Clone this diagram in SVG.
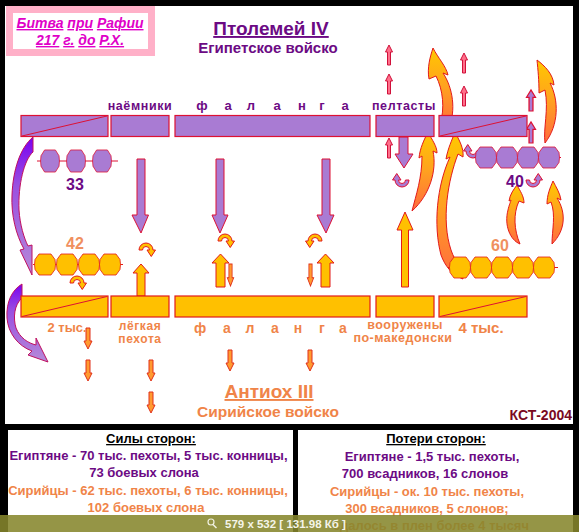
<svg xmlns="http://www.w3.org/2000/svg" xmlns:xlink="http://www.w3.org/1999/xlink" width="579" height="532" viewBox="0 0 579 532">
<style>
text{font-family:"Liberation Sans",Arial,sans-serif;font-weight:bold}
.pu{fill:#a97bd3;stroke:#dd1133;stroke-width:1.2}
.or{fill:#ffc000;stroke:#e21a1a;stroke-width:1.2}
.dg{fill:none;stroke:#dd1133;stroke-width:1}
.tp{fill:#6c0a84}
.to{fill:#f08448}
.elp{fill:#a97bd3;stroke:#dd1133;stroke-width:0.8}
.elo{fill:#ffc000;stroke:#e21a1a;stroke-width:0.8}
.ut-o{fill:#ffc000;stroke:#e21a1a;stroke-width:1}
.ut-p{fill:#a97bd3;stroke:#dd1133;stroke-width:1}
.ar-p{fill:#a97bd3;stroke:#dd1133;stroke-width:1}
.ar-o{fill:#ffc000;stroke:#e21a1a;stroke-width:1}
.ar-r{fill:#ff6f8a;stroke:#d0103a;stroke-width:1}
.ar-t{fill:#ff9a30;stroke:#e0301a;stroke-width:1}
.fl{fill:url(#gFl);stroke:#e21a1a;stroke-width:1}
.flp{fill:url(#gFlp);stroke:#c01060;stroke-width:1}
.bt{font-size:13px}
</style>
<defs>
<linearGradient id="gFl" x1="0" y1="0" x2="0" y2="1">
<stop offset="0" stop-color="#ffc800"/><stop offset="0.5" stop-color="#ffa020"/><stop offset="1" stop-color="#ff6a40"/>
</linearGradient>
<linearGradient id="gFlp" x1="0" y1="0" x2="0" y2="1">
<stop offset="0" stop-color="#7a00f0"/><stop offset="0.35" stop-color="#9a50e0"/><stop offset="1" stop-color="#b58ad8"/>
</linearGradient>
<path id="blob" d="M -6 -10.5 L 6 -10.5 L 10 -5 L 10.5 0 L 10 5 L 6 10.5 L -6 10.5 L -10 5 L -10.5 0 L -10 -5 Z"/>
<path id="uturn" d="M -7 0 A 7 7 0 0 1 7 0 L 9.5 0 L 5.25 6.5 L 1 0 L 3.5 0 A 3.5 3.5 0 0 0 -3.5 0 Z"/>
<path id="tdn" d="M -2 0 H 2 V 13 H 4 L 0 21 L -4 13 H -2 Z"/>
<path id="tup" d="M -1.5 20 H 1.5 V 7 H 3.5 L 0 0 L -3.5 7 H -1.5 Z"/>
</defs>

<rect x="0" y="0" width="579" height="532" fill="#000"/>
<rect x="5" y="6" width="568" height="418" fill="#fff"/>
<rect x="8" y="430" width="285" height="102" fill="#fff"/>
<rect x="298" y="430" width="275" height="102" fill="#fff"/>

<g id="title-box">
<rect x="9.5" y="9.5" width="142" height="43" fill="#fff" stroke="#ffb0c8" stroke-width="7"/>
<text x="80" y="28" text-anchor="middle" font-size="14" font-style="italic" fill="#e000c8"><tspan text-decoration="underline">Битва</tspan> <tspan text-decoration="underline">при</tspan> <tspan text-decoration="underline">Рафии</tspan></text>
<text x="80" y="45" text-anchor="middle" font-size="14" font-style="italic" fill="#e000c8"><tspan text-decoration="underline">217</tspan> <tspan text-decoration="underline">г.</tspan> <tspan text-decoration="underline">до</tspan> <tspan text-decoration="underline">Р.Х.</tspan></text>
</g>

<g id="egypt-title">
<text x="271" y="35" text-anchor="middle" font-size="19" class="tp" text-decoration="underline">Птолемей IV</text>
<text x="268" y="53" text-anchor="middle" font-size="15" class="tp">Египетское войско</text>
</g>
<g id="syria-title">
<text x="269" y="398" text-anchor="middle" font-size="19" class="to" text-decoration="underline">Антиох III</text>
<text x="268" y="417" text-anchor="middle" font-size="15.5" class="to">Сирийское войско</text>
</g>
<text id="credit" x="572" y="420" text-anchor="end" font-size="14" fill="#7a0a22">КСТ-2004</text>

<!-- connectors -->
<g id="connectors">
<path class="ar-p" d="M 137 159 H 145 V 215 H 148.5 L 141 233 L 132 215 H 137 Z"/>
<path class="ar-p" d="M 216 159 H 224 V 215 H 228 L 220 233 L 212 215 H 216 Z"/>
<path class="ar-p" d="M 322 159 H 330 V 215 H 334 L 326 233 L 317 215 H 322 Z"/>
<path class="ar-p" d="M 399 137 H 408 V 154 H 413 L 404 168 L 395 154 H 399 Z"/>
<path class="ar-o" d="M 137 296 V 273 H 133 L 141 264 L 149 273 H 145 V 296 Z"/>
<path class="ar-o" d="M 216 287 V 263 H 212 L 220.5 254 L 229 263 H 225 V 287 Z"/>
<path class="ar-o" d="M 321 287 V 263 H 317 L 325.5 254 L 334 263 H 330 V 287 Z"/>
<path class="ar-o" d="M 401.5 287 V 230 H 397 L 405 212 L 413 230 H 408.5 V 287 Z"/>
<use href="#tdn" class="ar-t" transform="translate(230.5,264) scale(0.8,1.05)"/>
<use href="#tdn" class="ar-t" transform="translate(310.5,264) scale(0.8,1.05)"/>
<use href="#tdn" class="ar-t" x="88" y="328"/>
<use href="#tdn" class="ar-t" x="88" y="360"/>
<use href="#tdn" class="ar-t" x="151" y="360"/>
<use href="#tdn" class="ar-t" x="151" y="392"/>
<use href="#tdn" class="ar-t" x="230" y="350"/>
<use href="#tdn" class="ar-t" x="310" y="350"/>
<use href="#tup" class="ar-r" x="389" y="45"/>
<use href="#tup" class="ar-r" x="389" y="74"/>
<use href="#tup" class="ar-r" x="389" y="138"/>
<use href="#tup" class="ar-r" x="464" y="53"/>
<use href="#tup" class="ar-r" x="464" y="86"/>
<use href="#tup" class="ar-p" transform="translate(531,90) scale(1.3,1.05)"/>
<use href="#tup" class="ar-p" transform="translate(531,122) scale(1.3,1.05)"/>
<use href="#uturn" class="ut-o" transform="translate(146,250)"/>
<use href="#uturn" class="ut-o" transform="translate(225,241)"/>
<use href="#uturn" class="ut-o" transform="translate(315,241) scale(-1,1)"/>
<use href="#uturn" class="ut-o" transform="translate(77,283)"/>
<use href="#uturn" class="ut-p" transform="translate(402,180) rotate(180)"/>
<use href="#uturn" class="ut-p" transform="translate(473,151) rotate(180)"/>
<use href="#uturn" class="ut-p" transform="translate(533,180) scale(-1,1) rotate(180)"/>
<path class="fl" d="M 428 132 C 432 140 437 146 437 153 L 433 151 C 437 170 430 195 412 211 C 416 195 422 178 422 156 L 419 158 C 420 148 424 140 428 132 Z"/>
<path class="fl" d="M 433 48 C 438 58 446 66 448 75 L 443 73 C 453 88 456 110 449 128 L 440 125 C 445 108 443 90 436 76 L 429 79 C 427 68 430 57 433 48 Z"/>
<path class="fl" d="M 455 132 C 459 140 464 148 463 157 L 458 154 C 448 180 441 220 451 250 C 455 262 463 270 463 279 C 452 275 445 266 441 255 C 433 225 437 185 450 157 L 446 159 C 448 148 452 140 455 132 Z"/>
<path class="fl" d="M 537 60 C 545 66 553 74 554 85 L 550 83 C 559 100 559 125 545 143 C 543 128 549 110 545 90 L 539 93 C 539 80 538 70 537 60 Z"/>
<path class="fl" d="M 517 185 C 520 191 524 196 524 203 L 519 201 C 513 214 514 230 520 244 C 510 240 504 225 508 210 C 509 205 511 201 511 200 L 509 201 C 510 194 514 189 517 185 Z"/>
<path class="fl" d="M 553 181 C 556 187 560 193 561 200 L 557 198 C 566 212 566 230 552 244 C 552 230 556 215 551 202 L 547 204 C 547 195 550 188 553 181 Z"/>
<path class="flp" d="M 33 137 L 33 152 C 24 160 18 185 19 210 C 20 225 24 238 28 246 L 32 245 L 32 275 L 20 250 L 24 249 C 16 235 11 215 12 195 C 13 170 20 148 33 137 Z"/>
<path class="flp" d="M 22 284 L 22 298 C 14 305 13 318 16 328 C 20 338 28 343 36 345 L 36 338 L 48 362 L 28 355 L 32 351 C 18 346 8 333 7 318 C 6 302 12 290 22 284 Z"/>
</g>

<g id="eg-left-cav"><rect class="pu" x="21" y="115.5" width="87" height="21"/><line class="dg" x1="22" y1="136" x2="107" y2="116"/></g>
<g id="eg-mercenaries"><rect class="pu" x="111" y="115.5" width="58" height="21"/><text x="140" y="110" text-anchor="middle" font-size="12.5" letter-spacing="0.6" class="tp">наёмники</text></g>
<g id="eg-phalanx"><rect class="pu" x="175" y="115.5" width="195" height="21"/><text x="202 228 251 277 302 322 345" y="110" text-anchor="middle" font-size="13" class="tp">фаланга</text></g>
<g id="eg-peltasts"><rect class="pu" x="376" y="115.5" width="58" height="21"/><text x="404" y="110" text-anchor="middle" font-size="12.5" letter-spacing="0.6" class="tp">пелтасты</text></g>
<g id="eg-right-cav"><rect class="pu" x="439" y="115.5" width="88" height="21"/><line class="dg" x1="440" y1="136" x2="526" y2="116"/></g>

<g id="sy-left-cav"><rect class="or" x="21" y="296" width="87" height="21"/><line class="dg" x1="22" y1="316.5" x2="107" y2="296.5"/><text x="67" y="332" text-anchor="middle" font-size="13" class="to">2 тыс.</text></g>
<g id="sy-light-inf"><rect class="or" x="111" y="296" width="58" height="21"/><text x="140" y="330" text-anchor="middle" font-size="12" letter-spacing="0.6" class="to">лёгкая</text><text x="140" y="343" text-anchor="middle" font-size="12" letter-spacing="0.6" class="to">пехота</text></g>
<g id="sy-phalanx"><rect class="or" x="175" y="296" width="195" height="21"/><text x="200 227 250 275 298 322 343" y="333" text-anchor="middle" font-size="14" class="to">фаланга</text></g>
<g id="sy-macedonian"><rect class="or" x="376" y="296" width="58" height="21"/><text x="405" y="329" text-anchor="middle" font-size="12.5" letter-spacing="0.5" class="to">вооружены</text><text x="403" y="342" text-anchor="middle" font-size="12.5" letter-spacing="0.5" class="to">по-македонски</text></g>
<g id="sy-right-cav"><rect class="or" x="439" y="296" width="88" height="21"/><line class="dg" x1="440" y1="316.5" x2="526" y2="296.5"/><text x="481" y="333" text-anchor="middle" font-size="15" class="to">4 тыс.</text></g>

<g id="eg-elephants-left">
<line x1="37" y1="161" x2="118" y2="161" stroke="#dd1133" stroke-width="1"/>
<use href="#blob" class="elp" transform="translate(50,161) scale(0.9,1.05)"/>
<use href="#blob" class="elp" transform="translate(76,161) scale(0.9,1.05)"/>
<use href="#blob" class="elp" transform="translate(102,161) scale(0.9,1.05)"/>
<text x="75" y="190" text-anchor="middle" font-size="16" font-weight="normal" class="tp">33</text>
</g>
<g id="eg-elephants-right">
<line x1="474" y1="157.5" x2="561" y2="157.5" stroke="#dd1133" stroke-width="1"/>
<use href="#blob" class="elp" transform="translate(486,157.5)"/>
<use href="#blob" class="elp" transform="translate(507,157.5)"/>
<use href="#blob" class="elp" transform="translate(528,157.5)"/>
<use href="#blob" class="elp" transform="translate(549,157.5)"/>
<text x="515" y="187" text-anchor="middle" font-size="16" font-weight="normal" class="tp">40</text>
</g>
<g id="sy-elephants-left">
<line x1="33" y1="264.5" x2="123" y2="264.5" stroke="#e21a1a" stroke-width="1"/>
<use href="#blob" class="elo" transform="translate(45,264.5)"/>
<use href="#blob" class="elo" transform="translate(67,264.5)"/>
<use href="#blob" class="elo" transform="translate(89,264.5)"/>
<use href="#blob" class="elo" transform="translate(110,264.5)"/>
<text x="75" y="249" text-anchor="middle" font-size="16" font-weight="normal" fill="#f09060">42</text>
</g>
<g id="sy-elephants-right">
<line x1="448" y1="267.5" x2="558" y2="267.5" stroke="#e21a1a" stroke-width="1"/>
<use href="#blob" class="elo" transform="translate(460,267.5)"/>
<use href="#blob" class="elo" transform="translate(481,267.5)"/>
<use href="#blob" class="elo" transform="translate(502,267.5)"/>
<use href="#blob" class="elo" transform="translate(523,267.5)"/>
<use href="#blob" class="elo" transform="translate(544,267.5)"/>
<text x="500" y="251" text-anchor="middle" font-size="16" font-weight="normal" fill="#f09060">60</text>
</g>

<g id="forces">
<text x="151" y="443" text-anchor="middle" font-size="13" fill="#000" text-decoration="underline">Силы сторон:</text>
<text x="148.5" y="460" text-anchor="middle" class="bt tp">Египтяне - 70 тыс. пехоты, 5 тыс. конницы,</text>
<text x="144" y="477" text-anchor="middle" class="bt tp">73 боевых слона</text>
<text x="148" y="495" text-anchor="middle" class="bt to">Сирийцы - 62 тыс. пехоты, 6 тыс. конницы,</text>
<text x="146" y="512" text-anchor="middle" class="bt to">102 боевых слона</text>
</g>
<g id="losses">
<text x="436" y="443" text-anchor="middle" font-size="13" fill="#000" text-decoration="underline">Потери сторон:</text>
<text x="432" y="461" text-anchor="middle" class="bt tp">Египтяне - 1,5 тыс. пехоты,</text>
<text x="425" y="478" text-anchor="middle" class="bt tp">700 всадников, 16 слонов</text>
<text x="427" y="496" text-anchor="middle" class="bt to">Сирийцы - ок. 10 тыс. пехоты,</text>
<text x="427" y="513" text-anchor="middle" class="bt to">300 всадников, 5 слонов;</text>
<text x="529" y="530" text-anchor="end" class="bt to">сдалось в плен более 4 тысяч</text>
</g>

<g id="status-bar">
<rect x="0" y="515" width="579" height="17" fill="#86862c" opacity="0.88"/>
<circle cx="211" cy="522" r="3" fill="none" stroke="#f0f0e0" stroke-width="1.2"/>
<line x1="213" y1="524.5" x2="216.5" y2="528" stroke="#f0f0e0" stroke-width="1.5"/>
<text x="225" y="528" font-size="11.5" font-weight="normal" fill="#f4f4e8">579 x 532 [ 131.98 Кб ]</text>
</g>
</svg>
